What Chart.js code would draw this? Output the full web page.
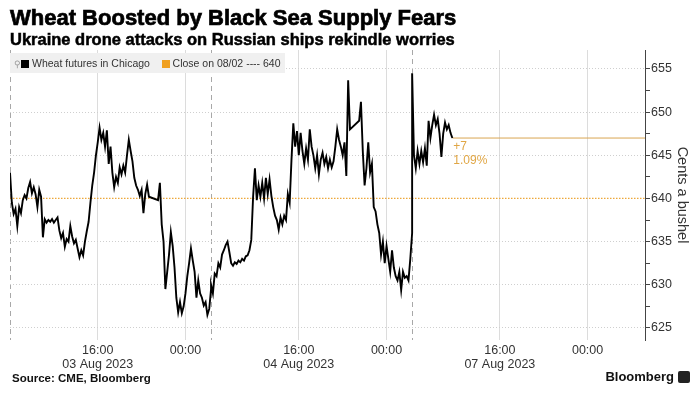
<!DOCTYPE html>
<html>
<head>
<meta charset="utf-8">
<script src="https://cdn.jsdelivr.net/npm/chart.js@4.4.0/dist/chart.umd.min.js"></script>
<style>
  body { margin: 0; background: #fff; font-family: "Liberation Sans", Arial, sans-serif; }
  #wrap { position: relative; width: 697px; height: 396px; overflow: hidden; }
  #grafico { position: absolute; left: 0; top: 0; }
  .titulo { position: absolute; left: 10px; top: 5px; font-size: 22px; line-height: 26px; font-weight: bold; color: #000; -webkit-text-stroke: 0.7px #000; white-space: nowrap; }
  .subtitulo { position: absolute; left: 10px; top: 29px; font-size: 16.5px; line-height: 20px; font-weight: bold; color: #000; -webkit-text-stroke: 0.5px #000; white-space: nowrap; }
  .leyenda { position: absolute; left: 10px; top: 53px; width: 275px; height: 20px; background: #f0f0f0; font-size: 10.5px; line-height: 20px; color: #333; white-space: nowrap; }
  .leyenda .pin { display: inline-block; margin-left: 4px; color: #999; font-size: 9px; }
  .leyenda .cuadro { display: inline-block; width: 8px; height: 8px; vertical-align: -0.5px; margin-right: 3px; }
  .fuente { position: absolute; left: 12px; top: 371px; font-size: 11.5px; line-height: 14px; font-weight: bold; color: #111; }
  .marca { position: absolute; right: 7px; top: 370px; font-size: 13px; line-height: 14px; font-weight: bold; color: #111; }
  .marca .logo { display: inline-block; width: 12px; height: 12px; background: #222; border-radius: 2px; vertical-align: -2px; margin-left: 4px; }
</style>
</head>
<body>
<div id="wrap">
  <canvas id="grafico" width="697" height="396"></canvas>
  <div class="titulo">Wheat Boosted by Black Sea Supply Fears</div>
  <div class="subtitulo">Ukraine drone attacks on Russian ships rekindle worries</div>
  <div class="leyenda"><span class="pin">⚲</span><span class="cuadro" style="background:#000"></span>Wheat futures in Chicago&nbsp;&nbsp;&nbsp;&nbsp;<span class="cuadro" style="background:#f0a020"></span><span id="txt-cierre"></span></div>
  <div class="fuente">Source: CME, Bloomberg</div>
  <div class="marca">Bloomberg<span class="logo"></span></div>
</div>
<script>
// Sesiones de trading (horas de trading comprimidas, cada sesion abre 08:00)
const sessionStarts = [0, 18 + 20 / 60, 36 + 40 / 60];
const stepHours = 10 / 60; // un dato cada 10 minutos

// Precios (centavos por bushel) - sesion 03 Aug
const wheatAug3 = [
  643.0, 639.5, 638.2, 638.8, 636.8, 639.0, 638.3, 639.8, 640.4, 640.0,
  641.2, 641.9, 640.6, 641.3, 640.5, 639.0, 641.0, 640.2, 635.5, 637.6,
  637.2, 637.5, 637.3, 637.6, 637.2, 637.5, 637.8, 636.3, 635.4, 636.0,
  634.4, 635.3, 635.0, 636.8, 635.6, 634.8, 635.2, 634.2, 633.2, 634.0,
  633.4, 635.0, 636.2, 637.3, 639.5, 641.5, 643.0, 645.0, 646.5, 648.2,
  646.8, 647.6, 646.0, 647.9, 644.0, 646.0, 643.0, 641.3, 642.5, 641.8,
  643.6, 642.8, 643.8, 643.0, 645.0, 646.8, 645.5, 644.3, 642.4, 641.5,
  641.0, 640.3, 641.0, 638.3, 640.5, 641.6, 640.2, null, null, null,
  null, 639.8, 641.8, 637.0, 635.0, 629.5, 631.5, 633.5, 636.1, 634.5,
  632.0, 628.5, 626.8, 628.0, 626.7, 627.5, 629.0, 631.0, 632.5, 634.2,
  632.8, 631.5, 628.5, 630.5, 629.0, 628.5, 627.6, 628.0, 626.5, 627.2,
  629.5
];
// sesion 04 Aug
const wheatAug4 = [
  630.0, 629.0, 631.3, 631.0, 632.5, 632.0, 633.5, 634.0, 634.6, 635.0,
  633.8, 632.5, 632.2, 632.6, 632.4, 632.8, 632.6, 633.0, 632.8, 633.3,
  633.4, 634.0, 635.2, 640.2, 643.5, 639.8, 641.5, 640.2, 641.8, 640.0,
  642.4, 640.5, 642.2, 640.3, 639.0, 638.0, 637.5, 636.4, 637.8, 637.0,
  638.0, 637.5, 640.5, 639.5, 644.5, 648.7, 646.0, 647.8, 645.0, 647.6,
  645.5, 644.0, 645.8, 644.5, 648.0, 646.0, 645.0, 643.5, 645.0, 642.8,
  644.5, 645.3, 644.0, 644.8, 643.5, 644.5, 643.6, 644.3, 646.0, 648.0,
  646.8, 646.0, 645.0, 646.5, 642.6, 653.7, 648.0, null, null, null,
  null, 649.0, 651.2, 645.5, 641.5, 643.5, 646.5, 643.0, 644.0, 639.0,
  638.5, 637.0, 636.0, 633.5, 635.0, 632.5, 634.5, 633.0, 631.5, 634.0,
  632.0, 631.0, 630.5, 631.5, 629.4, 631.5, 630.8, 631.0, 630.5, 633.0,
  636.0
];
// sesion 07 Aug
const wheatAug7 = [
  654.5, 645.0, 643.5, 645.5, 644.0, 645.5, 644.2, 645.8, 643.8, 649.0,
  647.0, 648.5, 649.7, 648.5, 649.2, 647.5, 644.8, 647.5, 648.8, 648.0,
  648.5, 647.6, 647.0
];

const prevClose = 640;
const prevCloseDate = '08/02';
const xMax = 57.9;

const tickPositions = [8, 16, 26 + 20 / 60, 34 + 20 / 60, 44 + 40 / 60, 52 + 40 / 60];
const tickLabels = [['16:00', '03 Aug 2023'], '00:00', ['16:00', '04 Aug 2023'], '00:00', ['16:00', '07 Aug 2023'], '00:00'];
const yTicks = [625, 627.5, 630, 632.5, 635, 637.5, 640, 642.5, 645, 647.5, 650, 652.5, 655];

// Armar puntos
const sesiones = [wheatAug3, wheatAug4, wheatAug7];
const puntos = [];
sesiones.forEach((precios, s) => {
  precios.forEach((p, i) => {
    puntos.push({ x: sessionStarts[s] + i * stepHours, y: p });
  });
});
const ultimo = puntos[puntos.length - 1];
const cambio = ultimo.y - prevClose;
const pct = (cambio / prevClose * 100).toFixed(2);

document.getElementById('txt-cierre').innerText = 'Close on ' + prevCloseDate + ' ---- ' + prevClose;

const esSesion = v => sessionStarts.some(s => Math.abs(s - v) < 0.01);

const etiquetaCambio = {
  id: 'etiquetaCambio',
  afterDatasetsDraw(chart) {
    const p = chart.getDatasetMeta(2).data[0];
    const ctx = chart.ctx;
    ctx.save();
    ctx.fillStyle = '#e0a645';
    ctx.font = "12px 'Liberation Sans', Arial, sans-serif";
    ctx.textBaseline = 'top';
    ctx.fillText((cambio >= 0 ? '+' : '') + cambio.toFixed(0), p.x + 1, p.y + 3);
    ctx.fillText(pct + '%', p.x + 1, p.y + 17);
    ctx.restore();
  }
};

Chart.defaults.font.family = "'Liberation Sans', Arial, sans-serif";
Chart.defaults.color = '#333';

const ctx = document.getElementById('grafico').getContext('2d');
new Chart(ctx, {
  type: 'line',
  data: {
    datasets: [
      {
        label: 'Wheat futures in Chicago',
        data: puntos,
        borderColor: '#000',
        borderWidth: 1.9,
        pointRadius: 0,
        tension: 0,
        spanGaps: true
      },
      {
        label: 'Close on ' + prevCloseDate,
        data: [{ x: 0, y: prevClose }, { x: xMax, y: prevClose }],
        borderColor: '#eda83a',
        borderWidth: 1.3,
        borderDash: [1.5, 1.5],
        pointRadius: 0
      },
      {
        label: 'Last',
        data: [{ x: ultimo.x, y: ultimo.y }, { x: xMax, y: ultimo.y }],
        borderColor: '#d9a552',
        borderWidth: 1,
        pointRadius: 0
      }
    ]
  },
  options: {
    responsive: false,
    animation: false,
    devicePixelRatio: 1,
    layout: { padding: { top: 50, left: 10, right: 0, bottom: 0 } },
    plugins: {
      legend: { display: false },
      tooltip: { enabled: false }
    },
    scales: {
      x: {
        type: 'linear',
        min: 0,
        max: xMax,
        afterBuildTicks: axis => {
          axis.ticks = sessionStarts.concat(tickPositions).sort((a, b) => a - b).map(v => ({ value: v }));
        },
        afterFit: axis => { axis.height = 56; },
        ticks: {
          autoSkip: false,
          maxRotation: 0,
          padding: 4,
          color: '#333',
          font: { size: 12.5, lineHeight: 1.12 },
          callback: (value) => {
            const k = tickPositions.findIndex(t => Math.abs(t - value) < 0.01);
            return k >= 0 ? tickLabels[k] : '';
          }
        },
        grid: {
          drawTicks: false,
          color: c => (c.tick && esSesion(c.tick.value)) ? '#a8a8a8' : '#dcdcdc',
          lineWidth: 1
        },
        border: {
          display: false,
          dash: c => (c.tick && esSesion(c.tick.value)) ? [5, 4] : []
        }
      },
      y: {
        position: 'right',
        min: 623.6,
        max: 657.2,
        afterBuildTicks: axis => {
          axis.ticks = yTicks.map(v => ({ value: v }));
        },
        afterFit: axis => { axis.width = 52; },
        ticks: {
          padding: 1,
          color: '#333',
          font: { size: 12.5 },
          callback: v => (v % 5 === 0 ? v : '')
        },
        grid: {
          color: c => (c.tick && c.tick.value % 5 === 0) ? '#cfcfcf' : 'rgba(0,0,0,0)',
          tickColor: '#444',
          tickLength: 5,
          lineWidth: 1
        },
        border: {
          display: true,
          color: '#444',
          width: 1,
          dash: [1, 2]
        },
        title: {
          display: true,
          text: 'Cents a bushel',
          color: '#333',
          font: { size: 14.5 },
          padding: { top: 6, bottom: 0 }
        }
      }
    }
  },
  plugins: [etiquetaCambio]
});
</script>
</body>
</html>
